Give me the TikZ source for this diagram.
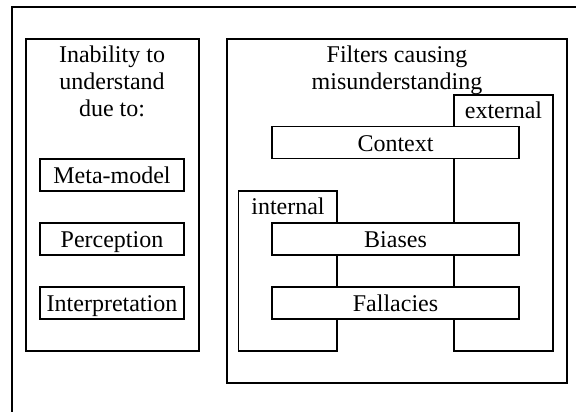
\documentclass[tikz,border=0pt]{standalone}
\usepackage{fontspec}
\setmainfont{Liberation Serif}
\begin{document}
\begin{tikzpicture}[x=1pt,y=-1pt,line width=1.4pt,
  font=\fontsize{24}{27}\selectfont,
  panel/.style={draw},
  itembox/.style={draw,fill=white,inner sep=0pt,text height=24.5pt,text depth=7.5pt,anchor=center},
  title/.style={align=center,anchor=north,inner sep=0pt},
  tag/.style={anchor=base,inner sep=0pt}]
\useasboundingbox (0,0) rectangle (576,412);
\begin{scope}
  \clip (0,0) rectangle (576,412);
  % outer frame, running past the page edges
  \draw (12,7) rectangle (600,440);
\end{scope}

% left panel
\draw[panel] (26,39) rectangle (199,351);
\node[title] (lt) at (112,45.6) {Inability to\\understand\\due to:};
\node[itembox,minimum width=144pt] (meta) at (112,175) {Meta-model};
\node[itembox,minimum width=144pt] (perc) at (112,239) {Perception};
\node[itembox,minimum width=144pt] (interp) at (112,303) {Interpretation};

% right panel
\draw[panel] (227,39) rectangle (567,383);
\node[title] (rt) at (397,45.6) {Filters causing\\misunderstanding};

% external and internal groups
\draw (454,95) rectangle (553,351);
\node[tag] (ext) at (503.5,118) {external};
\draw (238.5,191) rectangle (337,351);
\node[tag] (int) at (288,214) {internal};

% filter boxes on top
\node[itembox,minimum width=247pt] (ctx) at (395.5,142.5) {Context};
\node[itembox,minimum width=247pt] (bias) at (395.5,239) {Biases};
\node[itembox,minimum width=247pt] (fall) at (395.5,303) {Fallacies};
\end{tikzpicture}
\end{document}
